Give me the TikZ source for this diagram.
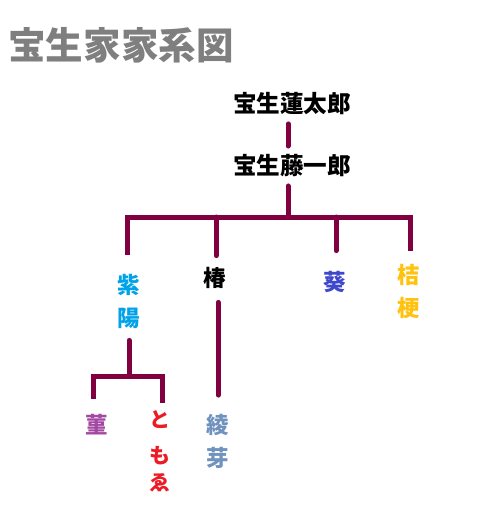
\documentclass[tikz,border=0pt]{standalone}
\usepackage{fontspec}
\setmainfont{Noto Sans CJK JP}
\usepackage{xcolor}
\usepackage{tikz}
\definecolor{keiline}{HTML}{800040}
\definecolor{titlegray}{HTML}{7F7F7F}
\definecolor{shiyoblue}{HTML}{00A2E8}
\definecolor{aoiblue}{HTML}{3F48CC}
\definecolor{kikyogold}{HTML}{FFC20E}
\definecolor{sumirepurple}{HTML}{A349A4}
\definecolor{tomoered}{HTML}{ED1C24}
\definecolor{ayameblue}{HTML}{7092BE}
\tikzset{
  kei/.style={draw=keiline, line width=5pt, line cap=round},
  mei/.style={inner sep=0pt, align=center, font=\fontsize{23.6}{23.6}\bfseries\selectfont},
  tatemei/.style={inner sep=0pt, align=center, font=\fontsize{22.5}{33}\bfseries\selectfont}
}

\begin{document}
\begin{tikzpicture}[x=1pt,y=-1pt]
    \useasboundingbox[fill=white] (0,0) rectangle (480,508);
    \node[inner sep=0pt, text=titlegray, font=\fontsize{37.5}{37.5}\bfseries\selectfont] (title) at (121,45) {宝生家家系図};

    \node[mei] (renta) at (292,104) {宝生蓮太郎};
    \node[mei] (toichi) at (292,166) {宝生藤一郎};

    \node[tatemei, text=shiyoblue] (shiyo) at (129,301.5) {紫\\陽};
    \node[tatemei] (tsubaki) at (215,278) {椿};
    \node[tatemei, text=aoiblue] (aoi) at (335,282) {葵};
    \node[tatemei, text=kikyogold] (kikyo) at (409,291.5) {桔\\梗};

    \node[tatemei, text=sumirepurple] (sumire) at (97,424.5) {菫};
    \node[tatemei, font=\fontsize{21}{31.5}\bfseries\selectfont, text=tomoered] (tomoe) at (160,451.5) {と\\[4.5pt]も\\[-4.5pt]ゑ};
    \node[tatemei, text=ayameblue] (ayame) at (218,441) {綾\\芽};

    \coordinate (b1) at (288,217);
    \coordinate (c1) at (127,217);
    \coordinate (c2) at (216,217);
    \coordinate (c3) at (336,217);
    \coordinate (c4) at (410,217);
    \coordinate (d0) at (129,376);
    \coordinate (d1) at (93,376);
    \coordinate (d2) at (162,376);

    % 蓮太郎 -> 藤一郎
    \draw[kei, shorten <=8.5pt, shorten >=8.5pt] (renta.south -| b1) -- (toichi.north -| b1);
    \draw[kei, shorten <=8.5pt] (toichi.south -| b1) -- (b1);
    % children of 藤一郎
    \draw[kei, line cap=butt, shorten <=19pt, shorten >=13pt] (shiyo.north -| c1) -- (c1) -- (c4) -- (kikyo.north -| c4);
    \draw[kei, shorten >=11.5pt] (c2) -- (tsubaki.north -| c2);
    \draw[kei, shorten >=20.5pt] (c3) -- (aoi.north -| c3);
    \draw[kei, shorten <=13.5pt, shorten >=18.5pt] (tsubaki.south -| ayame.north) -- (ayame.north);
    % children of 紫陽
    \draw[kei, shorten <=11.5pt] (shiyo.south -| d0) -- (d0);
    \draw[kei, line cap=butt, shorten <=15pt, shorten >=8pt] (sumire.north -| d1) -- (d1) -- (d2) -- (tomoe.north -| d2);
\end{tikzpicture}
\end{document}
